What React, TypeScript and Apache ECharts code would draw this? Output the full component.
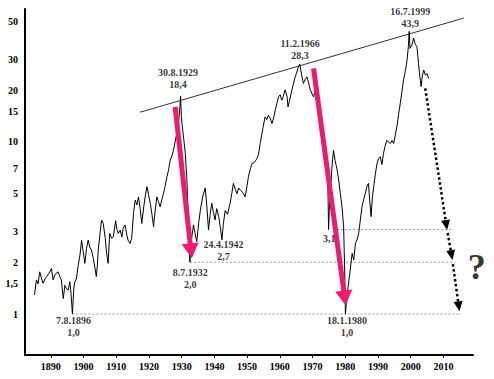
import React, { useEffect, useRef } from "react";
import * as echarts from "echarts";

// Dow / gold ratio
const ratioYears = [
  1885.0, 1885.6, 1886.1, 1886.6, 1887.1, 1887.6, 1888.2, 1888.7, 1889.4, 1890.2,
  1890.7, 1891.3, 1892.2, 1892.7, 1893.2, 1893.8, 1894.3, 1894.8, 1895.3, 1895.8,
  1896.2, 1896.6, 1897.0, 1897.3, 1897.8, 1898.3, 1898.9, 1899.4, 1899.9, 1900.4,
  1900.9, 1901.4, 1901.9, 1902.4, 1903.0, 1903.9, 1904.2, 1904.5, 1905.0, 1905.5,
  1906.0, 1906.6, 1907.0, 1907.5, 1908.0, 1908.6, 1909.1, 1909.8, 1910.2, 1910.6,
  1911.2, 1911.7, 1912.1, 1912.7, 1913.2, 1913.6, 1914.2, 1914.7, 1915.3, 1915.8,
  1916.3, 1916.8, 1917.3, 1917.8, 1918.4, 1918.9, 1919.4, 1919.9, 1920.4, 1920.9,
  1921.4, 1921.9, 1922.4, 1922.9, 1923.4, 1923.9, 1924.4, 1924.9, 1925.5, 1926.0,
  1926.5, 1927.0, 1927.5, 1928.3, 1929.0, 1929.4, 1929.66, 1929.9, 1930.1, 1930.6,
  1931.1, 1931.6, 1932.0, 1932.3, 1932.52, 1932.8, 1933.1, 1933.6, 1934.1, 1934.6,
  1935.2, 1935.7, 1936.4, 1937.2, 1937.7, 1938.2, 1938.7, 1939.2, 1939.7, 1940.2,
  1940.7, 1941.3, 1941.8, 1942.31, 1942.7, 1943.3, 1944.0, 1944.8, 1945.3, 1945.8,
  1946.4, 1946.9, 1947.4, 1947.9, 1948.6, 1949.4, 1950.0, 1950.4, 1951.0, 1951.5,
  1952.2, 1953.0, 1953.5, 1954.0, 1954.8, 1955.5, 1956.0, 1956.5, 1957.0, 1957.6,
  1958.1, 1958.6, 1959.1, 1959.6, 1960.1, 1960.6, 1961.1, 1961.6, 1962.2, 1962.5,
  1963.0, 1963.7, 1964.2, 1964.7, 1965.2, 1965.7, 1966.1, 1966.5, 1967.2, 1967.7,
  1968.3, 1968.8, 1969.3, 1970.3, 1970.8, 1971.3, 1971.8, 1972.4, 1972.9, 1973.4,
  1973.9, 1974.4, 1974.7, 1974.9, 1975.1, 1975.4, 1975.9, 1976.4, 1976.9, 1977.5,
  1978.0, 1978.5, 1979.0, 1979.5, 1979.8, 1980.05, 1980.4, 1981.0, 1981.5, 1982.1,
  1982.6, 1983.1, 1983.6, 1984.1, 1984.6, 1985.1, 1985.6, 1986.1, 1986.6, 1987.1,
  1987.5, 1987.9, 1988.3, 1988.7, 1989.2, 1989.7, 1990.2, 1990.7, 1991.2, 1991.7,
  1992.2, 1992.7, 1993.2, 1993.8, 1994.3, 1994.8, 1995.3, 1995.8, 1996.3, 1996.8,
  1997.3, 1997.8, 1998.4, 1998.9, 1999.3, 1999.54, 1999.8, 2000.4, 2000.9, 2001.4,
  2001.9, 2002.4, 2002.8, 2003.2, 2003.6, 2004.0, 2004.5, 2005.0, 2005.5,
];
const ratioValues = [
  1.29, 1.58, 1.5, 1.76, 1.62, 1.51, 1.6, 1.65, 1.72, 1.84,
  1.58, 1.7, 1.76, 1.66, 1.58, 1.23, 1.47, 1.4, 1.38, 1.54,
  1.3, 1.0, 1.4, 1.54, 1.6, 1.88, 2.2, 2.69, 2.3, 1.97,
  2.4, 2.69, 2.45, 2.36, 2.1, 1.65, 1.9, 2.36, 2.9, 3.52,
  3.36, 2.8, 2.3, 1.97, 2.94, 2.75, 2.81, 3.49, 3.1, 2.94,
  3.08, 2.8, 3.15, 3.29, 2.9, 2.69, 2.57, 2.75, 3.9, 4.6,
  4.3, 4.8, 4.1, 3.36, 4.2, 4.9, 5.5, 4.9, 4.4, 3.8,
  3.22, 4.0, 4.8, 4.5, 4.2, 4.6, 5.0, 5.5, 6.28, 6.9,
  7.86, 8.3, 8.97, 10.75, 12.8, 15.5, 18.4, 14.0, 12.8, 10.5,
  8.6, 6.0, 3.5, 2.4, 2.0, 2.5, 2.81, 3.3, 2.94, 2.63,
  3.4, 4.0, 4.8, 5.4, 4.2, 3.08, 3.8, 4.4, 3.9, 3.52,
  4.1, 3.7, 3.2, 2.7, 3.3, 4.0, 3.8, 4.4, 5.0, 5.75,
  5.3, 5.0, 5.4, 5.25, 5.1, 4.8, 5.6, 6.28, 7.0, 7.5,
  7.6, 8.0, 8.5, 9.8, 12.0, 14.0, 13.5, 14.3, 13.8, 12.8,
  13.8, 15.3, 16.8, 18.3, 18.8, 17.5, 18.5, 20.1, 18.5, 16.0,
  17.5, 20.1, 22.0, 23.9, 25.5, 27.4, 28.3, 25.5, 21.9, 23.0,
  23.9, 22.0, 20.1, 18.3, 19.5, 18.3, 17.5, 14.0, 11.8, 10.0,
  8.6, 6.5, 5.5, 3.1, 4.0, 5.0, 7.0, 8.97, 7.8, 6.9,
  6.0, 5.0, 4.2, 3.22, 1.9, 1.0, 1.2, 1.51, 1.8, 2.25,
  2.06, 2.57, 2.7, 2.94, 3.5, 4.2, 4.6, 5.0, 5.5, 5.75,
  4.5, 3.68, 4.8, 5.5, 6.5, 7.5, 8.0, 8.2, 7.4, 8.6,
  9.5, 10.25, 10.0, 9.8, 10.2, 9.8, 11.0, 12.3, 14.5, 16.7,
  19.5, 22.9, 26.0, 30.0, 36.0, 43.9, 35.0, 36.7, 40.2, 37.0,
  35.8, 28.6, 24.0, 21.0, 24.5, 26.2, 24.5, 25.0, 23.4,
];

const yTickValues = [1, 1.5, 2, 3, 5, 7, 10, 15, 20, 30, 50];
const xTickYears = [1890, 1900, 1910, 1920, 1930, 1940, 1950, 1960, 1970, 1980, 1990, 2000, 2010];

const trendYears = [1917.3, 2016.2];
const trendValues = [14.9, 52.5];

const levelValues = [1.0, 2.0, 3.1];
const levelFrom = [1896.6, 1932.6, 1976.3];
const levelTo = [2015.5, 2013.6, 2013.0];

// crash arrows: [fromYear, fromValue, toYear, toValue]
const crashArrows = [
  [1928.0, 16.0, 1932.85, 2.33],
  [1970.3, 26.8, 1979.85, 1.24],
];
const forecastArrows = [
  [2004.45, 20.5, 2010.9, 3.29],
  [2011.3, 2.96, 2012.5, 2.2],
  [2012.9, 1.95, 2014.7, 1.11],
];

const noteTexts = [
  "7.8.1896\n1,0",
  "8.7.1932\n2,0",
  "24.4.1942\n2,7",
  "30.8.1929\n18,4",
  "11.2.1966\n28,3",
  "16.7.1999\n43,9",
  "3,1",
  "18.1.1980\n1,0",
];
const noteYears = [1896.9, 1932.6, 1942.8, 1928.9, 1966.2, 1999.9, 1975.1, 1980.5];
const noteValues = [0.846, 1.614, 2.34, 23.3, 34.3, 52.6, 2.75, 0.852];

const questionYear = 2020.2;
const questionValue = 1.88;

const L = (v: number) => Math.log10(v);
const FONT = "'Liberation Serif', 'Times New Roman', serif";
const PINK = "#f01a6c";

export default function App() {
  const ref = useRef<HTMLDivElement>(null);
  useEffect(() => {
    if (!ref.current) return;
    const chart = echarts.init(ref.current, undefined, { renderer: "svg" });
    const textBase = { fontFamily: FONT, fontWeight: "bold" as const, fontSize: 10, color: "#000" };
    const option: any = {
      animation: false,
      backgroundColor: "#fff",
      grid: { left: 25, right: 21, top: 9, bottom: 24 },
      xAxis: {
        type: "value",
        min: 1882.1,
        max: 2019.05,
        splitLine: { show: false },
        axisLine: { show: true, onZero: false, lineStyle: { color: "#000", width: 2 } },
        axisTick: { show: true, customValues: xTickYears, length: 3, lineStyle: { color: "#000" } },
        axisLabel: { ...textBase, customValues: xTickYears, margin: 6, formatter: (v: number) => String(Math.round(v)) },
      },
      yAxis: {
        type: "value",
        min: L(0.578),
        max: L(59.3),
        splitLine: { show: false },
        axisLine: { show: true, onZero: false, lineStyle: { color: "#000", width: 2 } },
        axisTick: { show: false },
        axisLabel: {
          ...textBase,
          customValues: yTickValues.map(L),
          margin: 7,
          formatter: (v: number) => {
            const r = Math.round(Math.pow(10, v) * 10) / 10;
            return Number.isInteger(r) ? String(r) : String(r).replace(".", ",");
          },
        },
      },
      series: [
        ...levelValues.map((lv, i) => ({
          type: "line",
          silent: true,
          symbol: "none",
          data: [
            [levelFrom[i], L(lv)],
            [levelTo[i], L(lv)],
          ],
          lineStyle: { color: "#9a9a9a", width: 1, type: [2, 2] },
          z: 1,
        })),
        {
          type: "line",
          silent: true,
          symbol: "none",
          data: trendYears.map((y, i) => [y, L(trendValues[i])]),
          lineStyle: { color: "#333", width: 1 },
          z: 2,
        },
        {
          type: "line",
          silent: true,
          symbol: "none",
          data: ratioYears.map((y, i) => [y, L(ratioValues[i])]),
          lineStyle: { color: "#000", width: 1 },
          z: 3,
        },
        {
          type: "line",
          silent: true,
          data: [],
          z: 4,
          markLine: {
            silent: true,
            animation: false,
            symbol: ["none", "triangle"],
            symbolSize: [17, 15],
            label: { show: false },
            lineStyle: { color: PINK, width: 5, type: "solid" },
            emphasis: { disabled: true },
            data: crashArrows.map((a) => [
              { coord: [a[0], L(a[1])] },
              { coord: [a[2], L(a[3])] },
            ]),
          },
        },
        {
          type: "line",
          silent: true,
          data: [],
          z: 4,
          markLine: {
            silent: true,
            animation: false,
            symbol: ["none", "triangle"],
            symbolSize: [9, 10],
            label: { show: false },
            lineStyle: { color: "#000", width: 2.5, type: "dotted" },
            emphasis: { disabled: true },
            data: forecastArrows.map((a) => [
              { coord: [a[0], L(a[1])] },
              { coord: [a[2], L(a[3])] },
            ]),
          },
        },
        {
          type: "scatter",
          silent: true,
          clip: false,
          symbolSize: 0,
          z: 5,
          label: { show: true, position: "inside", ...textBase, lineHeight: 12, align: "center", verticalAlign: "middle" },
          data: noteTexts.map((t, i) => ({
            value: [noteYears[i], L(noteValues[i])],
            label: { formatter: t },
          })),
        },
        {
          type: "scatter",
          silent: true,
          clip: false,
          symbolSize: 0,
          z: 5,
          label: {
            show: true,
            position: "inside",
            fontFamily: FONT,
            fontWeight: "bold",
            fontSize: 36,
            color: "#000",
            formatter: "?",
          },
          data: [[questionYear, L(questionValue)]],
        },
      ],
    };
    chart.setOption(option);
    return () => chart.dispose();
  }, []);
  return (
    <div
      ref={ref}
      style={{ position: "fixed", left: 0, top: 0, width: 494, height: 379, background: "#fff" }}
    />
  );
}
